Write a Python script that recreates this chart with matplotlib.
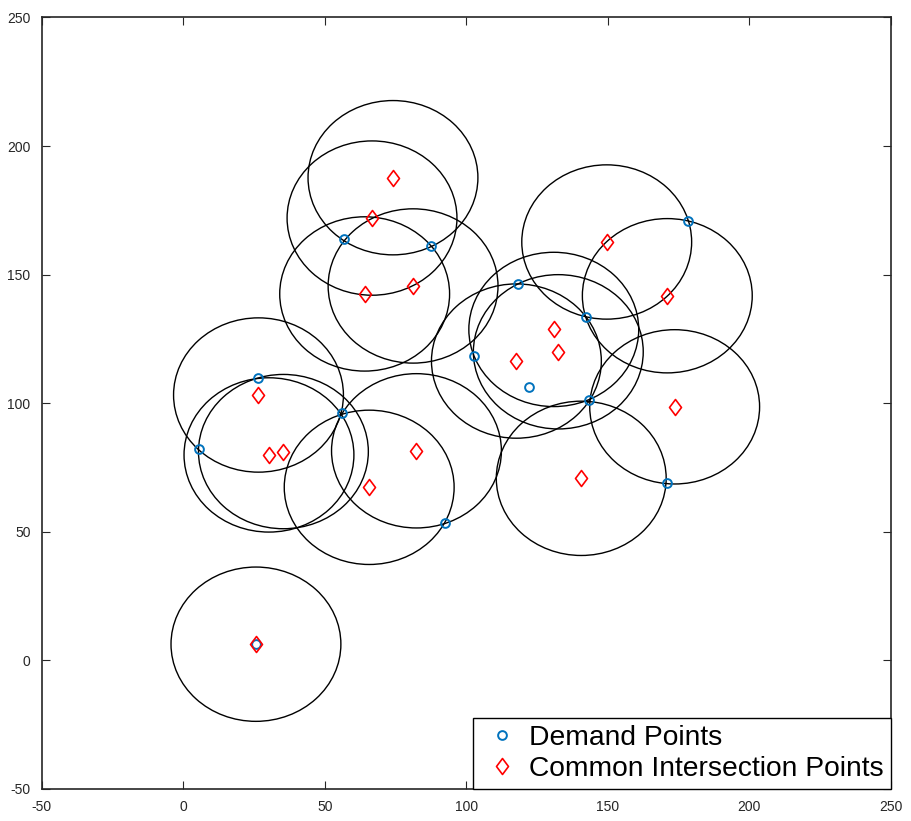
import matplotlib
matplotlib.use('Agg')
import matplotlib.pyplot as plt
from matplotlib.patches import Circle
from matplotlib.path import Path

plt.rcParams['font.family'] = ['Liberation Sans', 'DejaVu Sans']
plt.rcParams['axes.unicode_minus'] = False

# demand points
demand_x = [5.7, 26.5, 56.1, 56.9, 87.4, 102.7, 92.4, 118.3, 122.0, 142.4, 143.3, 178.3, 170.8, 25.7]
demand_y = [82.3, 109.9, 96.1, 163.7, 161.3, 118.4, 53.3, 146.2, 106.2, 133.4, 101.2, 171.0, 69.1, 6.5]

# common intersection points (circle centres)
cip_x = [74.1, 66.7, 64.1, 81.2, 149.6, 171.0, 130.9, 132.5, 117.7, 26.6, 30.3, 35.4, 82.4, 65.7, 173.6, 140.6, 25.7]
cip_y = [187.7, 172.0, 142.5, 145.6, 162.7, 141.8, 128.7, 120.0, 116.4, 103.2, 79.9, 81.2, 81.5, 67.3, 98.6, 70.8, 6.3]

radius = 30

xticks = [-50, 0, 50, 100, 150, 200, 250]
yticks = [-50, 0, 50, 100, 150, 200, 250]

blue = '#0072BD'
red = '#FF0000'
axcol = '#262626'

# matlab style diamond, a bit taller than wide
diamond = Path([(0, 1), (0.75, 0), (0, -1), (-0.75, 0), (0, 1)],
               [Path.MOVETO, Path.LINETO, Path.LINETO, Path.LINETO, Path.CLOSEPOLY])

fig = plt.figure(figsize=(9.11, 8.21), dpi=100)
ax = fig.add_axes([0.0457, 0.039, 0.978 - 0.0457, 0.9787 - 0.039])

for cx, cy in zip(cip_x, cip_y):
    ax.add_patch(Circle((cx, cy), radius, fill=False, edgecolor='black', linewidth=1.0))

ax.plot(demand_x, demand_y, linestyle='none', marker='o', markersize=6.3,
        markerfacecolor='none', markeredgecolor=blue, markeredgewidth=1.4,
        label='Demand Points')
ax.plot(cip_x, cip_y, linestyle='none', marker=diamond, markersize=11.5,
        markerfacecolor='none', markeredgecolor=red, markeredgewidth=1.2,
        label='Common Intersection Points')

ax.set_xlim(-50, 250)
ax.set_ylim(-50, 250)
ax.set_xticks(xticks)
ax.set_yticks(yticks)
ax.tick_params(direction='in', length=5.8, width=0.8, top=True, right=True,
               labelsize=10, colors=axcol, pad=8)
for sp in ax.spines.values():
    sp.set_linewidth(1.2)
    sp.set_color(axcol)

leg = ax.legend(loc='lower right', borderaxespad=0, fontsize=20.3, frameon=True,
                fancybox=False, framealpha=1, edgecolor='black',
                borderpad=0.25, labelspacing=0.18, handlelength=1.6,
                handletextpad=0.15)
leg.get_frame().set_linewidth(1.0)

fig.savefig('out.png', dpi=100)
